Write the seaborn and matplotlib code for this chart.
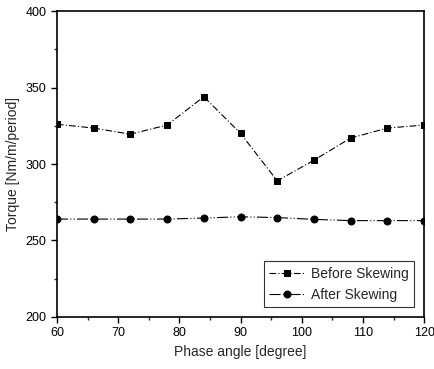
import pandas as pd
import matplotlib
matplotlib.use('Agg')
import matplotlib.pyplot as plt
from matplotlib.ticker import MultipleLocator
import seaborn as sns

phase = [60, 66, 72, 78, 84, 90, 96, 102, 108, 114, 120]
before_skew = [326, 323.5, 319.5, 325.5, 344, 320, 289, 302.5, 317, 323.5, 325.5]
after_skew = [264, 264, 264, 264, 264.7, 265.5, 265, 263.8, 263, 263, 263]

sns.set_style("ticks")
plt.rcParams['font.family'] = ['Liberation Sans', 'DejaVu Sans']

fig, ax = plt.subplots(figsize=(4.35, 3.69), dpi=100)
fig.subplots_adjust(left=0.131, right=0.975, top=0.970, bottom=0.141)

sns.lineplot(x=phase, y=before_skew, ax=ax, color='black', lw=0.8, linestyle=(0, (6, 2, 1, 2)),
             marker='s', markersize=5, markeredgecolor='black', label='Before Skewing')
sns.lineplot(x=phase, y=after_skew, ax=ax, color='black', lw=0.8, linestyle=(0, (10, 2, 1, 2, 1, 2)),
             marker='o', markersize=5, markeredgecolor='black', label='After Skewing')

ax.set_xlim(60, 120)
ax.set_ylim(200, 400)
ax.xaxis.set_major_locator(MultipleLocator(10))
ax.xaxis.set_minor_locator(MultipleLocator(5))
ax.yaxis.set_major_locator(MultipleLocator(50))
ax.yaxis.set_minor_locator(MultipleLocator(25))
ax.tick_params(which='major', direction='out', length=4, width=1, labelsize=9, colors='black')
ax.tick_params(which='minor', direction='out', length=2, width=1)
for s in ax.spines.values():
    s.set_linewidth(1.2)
    s.set_color('black')

ax.set_xlabel('Phase angle [degree]', fontsize=10)
ax.set_ylabel('Torque [Nm/m/period]', fontsize=10)

leg = ax.legend(loc='lower right', fontsize=10, frameon=True, fancybox=False,
                edgecolor='black', handlelength=2.5, handletextpad=0.5, borderaxespad=0.7)
leg.get_frame().set_linewidth(0.8)

plt.savefig('out.png', dpi=100)
